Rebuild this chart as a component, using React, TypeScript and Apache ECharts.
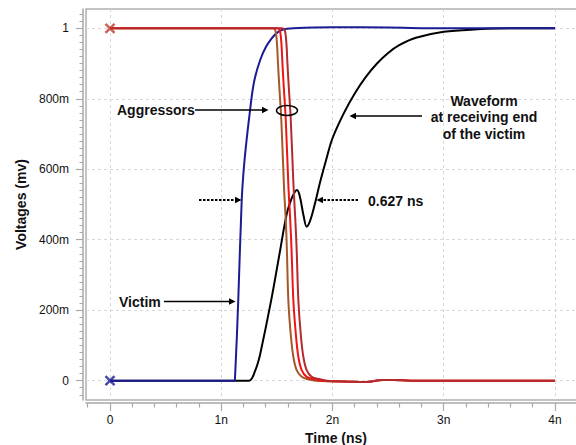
import React, { useEffect, useRef } from 'react';
import * as echarts from 'echarts';

const FONT = "'Liberation Sans', Arial, Helvetica, sans-serif";

// Axis ticks (ns / V)
const xMajorTicks = [0, 1, 2, 3, 4];
const xMinorTicks = [-0.2, 0.2, 0.4, 0.6, 0.8, 1.2, 1.4, 1.6, 1.8, 2.2, 2.4, 2.6, 2.8, 3.2, 3.4, 3.6, 3.8, 4.2];
const yMajorTicks = [0, 0.2, 0.4, 0.6, 0.8, 1];
const yMinorTicks = Array.from({ length: 55 }, (_, i) => Math.round((-0.04 + i * 0.02) * 100) / 100);

// Victim input (blue)
const victimInput: [number, number][] = [
  [0, 0], [1.117, 0], [1.124, 0.01], [1.153, 0.229], [1.184, 0.513], [1.205, 0.61],
  [1.232, 0.695], [1.258, 0.765], [1.28, 0.82], [1.303, 0.86], [1.35, 0.91], [1.4, 0.946],
  [1.45, 0.97], [1.5, 0.987], [1.55, 0.996], [1.65, 1.0], [2.0, 1.003], [2.5, 1.002], [3.0, 1.0], [4.0, 1.0],
];

// Aggressors
const aggressor1: [number, number][] = [
  [0, 1], [1.46, 1], [1.485, 0.995], [1.5, 0.96], [1.51, 0.9], [1.522, 0.834], [1.54, 0.74],
  [1.564, 0.55], [1.58, 0.456], [1.59, 0.371], [1.603, 0.229], [1.624, 0.134], [1.648, 0.068],
  [1.678, 0.03], [1.723, 0.011], [1.782, 0.004], [1.85, 0], [2.2, -0.003], [2.3, -0.004],
  [2.45, 0.002], [2.55, 0.002], [2.7, 0], [4, 0],
];
const aggressor2: [number, number][] = [
  [0, 1], [1.5, 1], [1.525, 0.995], [1.54, 0.96], [1.55, 0.9], [1.562, 0.834], [1.58, 0.74],
  [1.604, 0.55], [1.62, 0.456], [1.632, 0.371], [1.648, 0.229], [1.67, 0.134], [1.693, 0.068],
  [1.723, 0.03], [1.768, 0.011], [1.843, 0.004], [1.9, 0], [2.2, -0.003], [2.3, -0.004],
  [2.45, 0.002], [2.55, 0.002], [2.7, 0], [4, 0],
];
const aggressor3: [number, number][] = [
  [0, 1], [1.545, 1], [1.57, 0.995], [1.585, 0.96], [1.595, 0.9], [1.607, 0.834], [1.625, 0.74],
  [1.65, 0.55], [1.666, 0.456], [1.678, 0.371], [1.693, 0.229], [1.714, 0.134], [1.738, 0.068],
  [1.768, 0.03], [1.813, 0.011], [1.888, 0.004], [1.95, 0], [2.2, -0.003], [2.3, -0.004],
  [2.45, 0.002], [2.55, 0.002], [2.7, 0], [4, 0],
];

// Waveform at receiving end of the victim (black)
const victimReceive: [number, number][] = [
  [0, 0], [1.25, 0], [1.275, 0.006], [1.3, 0.024], [1.325, 0.046], [1.35, 0.075], [1.45, 0.23],
  [1.53, 0.371], [1.59, 0.475], [1.63, 0.515], [1.66, 0.535], [1.68, 0.541], [1.705, 0.525],
  [1.74, 0.468], [1.768, 0.437], [1.8, 0.455], [1.84, 0.5], [1.89, 0.565], [1.95, 0.635],
  [2.0, 0.688], [2.1, 0.758], [2.2, 0.815], [2.3, 0.862], [2.4, 0.9], [2.5, 0.93], [2.6, 0.952],
  [2.75, 0.973], [3.0, 0.99], [3.3, 0.997], [3.6, 1.0], [4.0, 1.0],
];

const startMarkers = [
  { value: [0, 1], color: '#c0392b' },
  { value: [0, 0], color: '#1b1b94' },
];

const X_MIN = -0.2157;
const X_MAX = 4.2787;
const Y_MIN = -0.0548;
const Y_MAX = 1.0548;

const gridLine = { show: true, lineStyle: { color: '#d8d8d8', type: [3, 3] as any, width: 1 } };
const axisGray = '#a8a8a8';
const hiddenLine = { show: true, onZero: false, lineStyle: { color: 'rgba(0,0,0,0)', width: 0 } };

const bold = (text: string, x: number, y: number, align = 'left') => ({
  type: 'text', x, y, z: 100,
  style: { text, fill: '#111', fontFamily: FONT, fontSize: 14, fontWeight: 'bold', align, verticalAlign: 'middle' },
});
const solidLine = (x1: number, y1: number, x2: number, y2: number) => ({
  type: 'line', z: 100, shape: { x1, y1, x2, y2 }, style: { stroke: '#000', lineWidth: 1.5 },
});
const dottedLine = (x1: number, y1: number, x2: number, y2: number) => ({
  type: 'line', z: 100, shape: { x1, y1, x2, y2 }, style: { stroke: '#000', lineWidth: 2, lineDash: [2.5, 1.5] },
});
const head = (tx: number, ty: number, dir: number) => ({
  type: 'polygon', z: 100,
  shape: { points: [[tx, ty], [tx - dir * 6.5, ty - 3.2], [tx - dir * 6.5, ty + 3.2]] },
  style: { fill: '#000' },
});

export default function App() {
  const ref = useRef<HTMLDivElement>(null);
  useEffect(() => {
    const chart = echarts.init(ref.current!, null, { renderer: 'svg' });
    const lineSeries = (data: [number, number][], color: string) => ({
      type: 'line', data, showSymbol: false, smooth: 0.35,
      lineStyle: { color, width: 2 }, itemStyle: { color }, xAxisIndex: 0, yAxisIndex: 0,
    });
    chart.setOption({
      animation: false,
      backgroundColor: '#fff',
      textStyle: { fontFamily: FONT },
      grid: {
        left: 86, top: 9, width: 500, height: 391, show: true, borderColor: '#b0b0b0', borderWidth: 1.5,
        containLabel: false, outerBoundsMode: 'none',
      },
      xAxis: [
        {
          type: 'value', min: X_MIN, max: X_MAX, position: 'bottom', offset: 3,
          axisLine: { show: true, onZero: false, lineStyle: { color: axisGray, width: 1.5 } },
          axisTick: { show: true, customValues: xMajorTicks, length: 8, lineStyle: { color: axisGray, width: 1.2 } },
          axisLabel: {
            customValues: xMajorTicks, margin: 11, color: '#111', fontSize: 12, fontFamily: FONT,
            formatter: (v: number) => (v === 0 ? '0' : v + 'n'),
          },
          splitLine: gridLine,
          name: 'Time (ns)', nameLocation: 'middle', nameGap: 25,
          nameTextStyle: { fontSize: 14, fontWeight: 'bold', color: '#111', fontFamily: FONT },
        },
        {
          type: 'value', min: X_MIN, max: X_MAX, position: 'bottom', offset: 3,
          axisLine: hiddenLine,
          axisTick: { show: true, customValues: xMinorTicks, length: 4.5, lineStyle: { color: axisGray, width: 1.2 } },
          axisLabel: { show: false }, splitLine: { show: false },
        },
      ],
      yAxis: [
        {
          type: 'value', min: Y_MIN, max: Y_MAX, position: 'left', offset: 3,
          axisLine: { show: true, onZero: false, lineStyle: { color: axisGray, width: 1.5 } },
          axisTick: { show: true, customValues: yMajorTicks, length: 7, lineStyle: { color: axisGray, width: 1.2 } },
          axisLabel: {
            customValues: yMajorTicks, margin: 14, color: '#111', fontSize: 12, fontFamily: FONT,
            formatter: (v: number) => (v === 0 ? '0' : v === 1 ? '1' : Math.round(v * 1000) + 'm'),
          },
          splitLine: gridLine,
          name: 'Voltages (mv)', nameLocation: 'middle', nameGap: 54,
          nameTextStyle: { fontSize: 14, fontWeight: 'bold', color: '#111', fontFamily: FONT },
        },
        {
          type: 'value', min: Y_MIN, max: Y_MAX, position: 'left', offset: 3,
          axisLine: hiddenLine,
          axisTick: { show: true, customValues: yMinorTicks, length: 3.5, lineStyle: { color: axisGray, width: 1 } },
          axisLabel: { show: false }, splitLine: { show: false },
        },
      ],
      series: [
        lineSeries(victimReceive, '#000000'),
        lineSeries(victimInput, '#1b1b94'),
        lineSeries(aggressor1, '#a3582a'),
        lineSeries(aggressor2, '#f21414'),
        lineSeries(aggressor3, '#b52a2e'),
        {
          type: 'scatter', xAxisIndex: 0, yAxisIndex: 0, z: 5,
          symbol: 'path://M0,0L10,10M10,0L0,10', symbolSize: 9,
          data: startMarkers.map((m) => ({
            value: m.value,
            itemStyle: { color: 'rgba(0,0,0,0)', borderColor: m.color, borderWidth: 2.5 },
          })),
        },
      ],
      graphic: [
        bold('Aggressors', 117, 109.5),
        solidLine(195, 110, 263, 110),
        head(268.5, 110, 1),
        {
          type: 'ellipse', z: 100, shape: { cx: 287, cy: 110.5, rx: 10.5, ry: 5 },
          style: { fill: 'none', stroke: '#000', lineWidth: 1.5 },
        },
        {
          type: 'text', x: 484, y: 117, z: 100,
          style: {
            text: 'Waveform\nat receiving end\nof the victim', fill: '#111', fontFamily: FONT, fontSize: 14,
            fontWeight: 'bold', align: 'center', verticalAlign: 'middle', lineHeight: 16.5,
          },
        },
        solidLine(422, 116, 355, 116),
        head(349.5, 116, -1),
        bold('0.627 ns', 368, 200.5),
        dottedLine(358, 200, 322, 200),
        head(316.5, 200, -1),
        dottedLine(199, 200, 236, 200),
        head(241.5, 200, 1),
        bold('Victim', 119, 301.5),
        solidLine(164, 301.5, 230, 301.5),
        head(235.5, 301.5, 1),
      ],
    });
    return () => chart.dispose();
  }, []);
  return (
    <div
      ref={ref}
      style={{ position: 'fixed', left: 0, top: 0, width: 576, height: 445, background: '#fff' }}
    />
  );
}
